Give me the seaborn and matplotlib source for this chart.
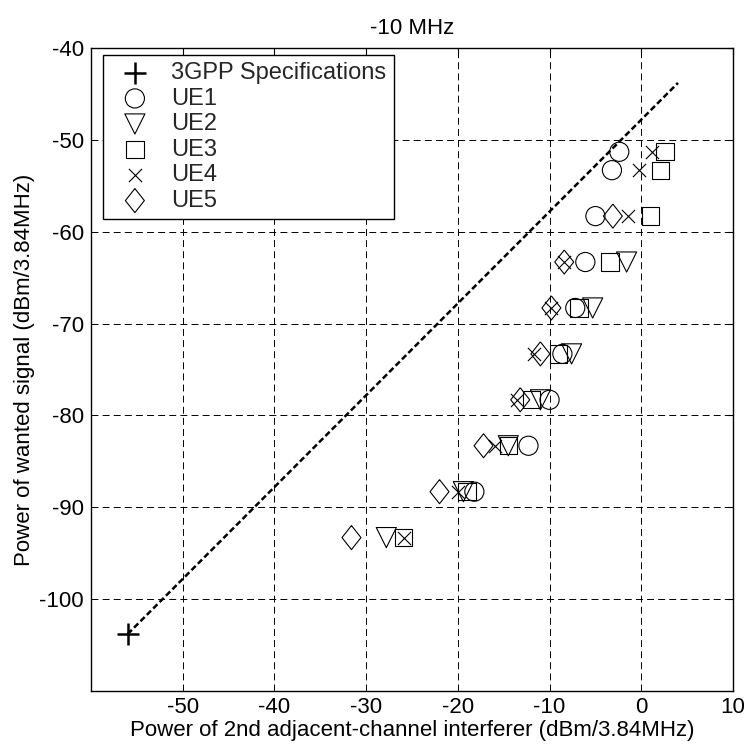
import matplotlib
matplotlib.use("Agg")
import matplotlib.pyplot as plt
import numpy as np
import pandas as pd
import seaborn as sns

# Wanted-signal levels (dBm/3.84MHz)
wanted = [-51.3, -53.3, -58.3, -63.3, -68.3, -73.3, -78.3, -83.3, -88.3, -93.3]

# Interferer power at each wanted level, per UE (dBm/3.84MHz)
ue1_x = [-2.4, -3.2, -5.0, -6.1, -7.2, -8.6, -10.0, -12.3, -18.2]
ue1_y = wanted[:9]
ue2_x = [-1.6, -5.3, -7.6, -11.0, -14.5, -19.4, -27.8]
ue2_y = wanted[3:]
ue3_x = [2.6, 2.1, 1.0, -3.4, -6.8, -9.0, -12.0, -14.5, -19.0, -25.9]
ue3_y = wanted
ue4_x = [1.2, -0.2, -1.4, -8.4, -9.8, -11.7, -13.5, -15.9, -20.0, -25.9]
ue4_y = wanted
ue5_x = [-3.1, -8.4, -9.8, -11.0, -13.2, -17.2, -22.0, -31.6]
ue5_y = wanted[2:]

# 3GPP requirement point and the unit-slope reference line through it
spec_x = [-56.0]
spec_y = [-103.8]
spec_line_x = [-56.0, 4.0]
spec_line_y = [-103.8, -43.8]

x_ticks = [-50, -40, -30, -20, -10, 0, 10]
y_ticks = [-100, -90, -80, -70, -60, -50, -40]

sns.set_theme(style="white")
plt.rcParams["font.family"] = ["Liberation Sans", "DejaVu Sans"]
plt.rcParams["lines.scale_dashes"] = False
plt.rcParams["axes.unicode_minus"] = False

FS = 16
LEG_FS = 17

fig = plt.figure(figsize=(7.48, 7.49), dpi=100)
ax = fig.add_axes([91 / 748, 1 - 691 / 749, 642 / 748, 643 / 749])

# reference line
sns.lineplot(x=spec_line_x, y=spec_line_y, ax=ax, color="black",
             linewidth=1.8, linestyle=(0, (4.3, 2.2)), sort=False,
             estimator=None, legend=False)

diamond = [(0.0, 1.0), (0.79, 0.0), (0.0, -1.0), (-0.79, 0.0), (0.0, 1.0)]

series = [
    ("3GPP Specifications", spec_x, spec_y, "+", 260, 1.8),
    ("UE1", ue1_x, ue1_y, "o", 190, 0.8),
    ("UE2", ue2_x, ue2_y, "v", 210, 0.8),
    ("UE3", ue3_x, ue3_y, "s", 155, 0.8),
    ("UE4", ue4_x, ue4_y, "x", 90, 0.8),
    ("UE5", ue5_x, ue5_y, diamond, 300, 0.8),
]

handles = []
labels = []
for name, xs, ys, mk, size, lw in series:
    df = pd.DataFrame({"x": xs, "y": ys})
    n_before = len(ax.collections)
    if isinstance(mk, str) and mk in ("+", "x"):
        sns.scatterplot(data=df, x="x", y="y", ax=ax, marker=mk, s=size,
                        color="black", linewidth=lw, legend=False, zorder=3)
    else:
        sns.scatterplot(data=df, x="x", y="y", ax=ax, marker=mk, s=size,
                        color="black", facecolor="none", edgecolor="black",
                        linewidth=lw, legend=False, zorder=3)
    handles.append(ax.collections[n_before])
    labels.append(name)

ax.set_xlim(-60, 10)
ax.set_ylim(-110, -40)
ax.set_xticks(x_ticks)
ax.set_yticks(y_ticks)

ax.grid(True, color="black", linestyle=(0, (5, 3)), linewidth=0.7)
ax.set_axisbelow(True)

for side in ["left", "right", "top", "bottom"]:
    ax.spines[side].set_visible(True)
    ax.spines[side].set_color("black")
    ax.spines[side].set_linewidth(1.0)

ax.tick_params(axis="both", which="both", direction="in", length=4.5,
               width=0.8, color="black", labelsize=FS, labelcolor="black",
               top=True, right=True)
ax.tick_params(axis="x", pad=4.0)
ax.tick_params(axis="y", pad=5.0)

ax.set_xlabel("Power of 2nd adjacent-channel interferer (dBm/3.84MHz)",
              fontsize=FS, color="black", labelpad=2)
ax.set_ylabel("Power of wanted signal (dBm/3.84MHz)", fontsize=FS,
              color="black", labelpad=3)
ax.set_title("-10 MHz", fontsize=FS, color="black", pad=10)

leg = ax.legend(handles, labels, loc="upper left",
                bbox_to_anchor=(12 / 642, 1 - 7 / 643), borderaxespad=0,
                fontsize=LEG_FS, frameon=True, fancybox=False, framealpha=1,
                edgecolor="black", facecolor="white", scatterpoints=1,
                labelspacing=0.15, handletextpad=0.5, handlelength=2.1,
                borderpad=0.3)
leg.get_frame().set_linewidth(1.0)

fig.savefig("out.png", dpi=100, facecolor="white")
